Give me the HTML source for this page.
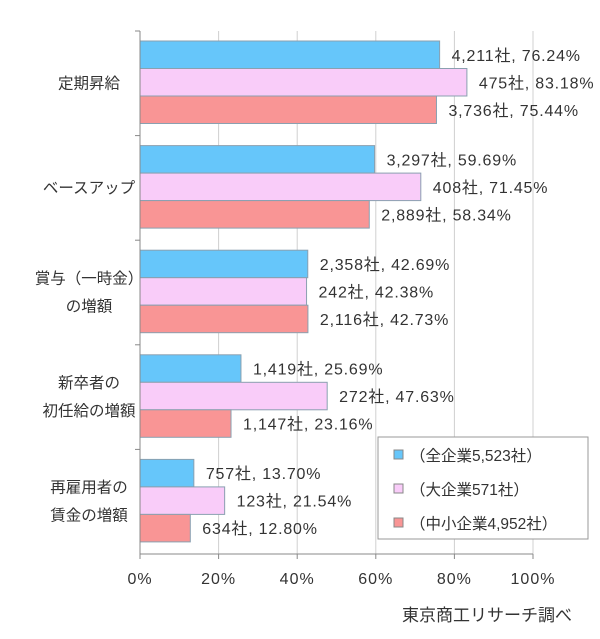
<!DOCTYPE html>
<html><head><meta charset="utf-8">
<style>
body{margin:0;background:#fff;}
svg{display:block;font-family:"Liberation Sans","Noto Sans CJK JP",sans-serif;}
</style></head>
<body>
<svg id="chart" width="600" height="639" viewBox="0 0 600 639">
<g id="grid"></g>
<g id="bars"></g>
<g id="axes"></g>
<g>
<rect x="378" y="437" width="210" height="102" fill="#fff" stroke="#999"/>
<rect x="394" y="450" width="9" height="9" fill="#66c6fa" stroke="#888"/>
<text x="410" y="461" font-size="15.5" fill="#333">（全企業5,523社）</text>
<rect x="394" y="484" width="9" height="9" fill="#f9ccf9" stroke="#888"/>
<text x="410" y="495" font-size="15.5" fill="#333">（大企業571社）</text>
<rect x="394" y="518" width="9" height="9" fill="#f99595" stroke="#888"/>
<text x="410" y="529" font-size="15.5" fill="#333">（中小企業4,952社）</text>
</g>
<text x="572" y="621" font-size="17" fill="#333" text-anchor="end">東京商工リサーチ調べ</text>
</svg>
<script>
const categories=[["定期昇給"],["ベースアップ"],["賞与（一時金）","の増額"],["新卒者の","初任給の増額"],["再雇用者の","賃金の増額"]];
const allPct=[76.24,59.69,42.69,25.69,13.70];
const largePct=[83.18,71.45,42.38,47.63,21.54];
const smePct=[75.44,58.34,42.73,23.16,12.80];
const allCount=["4,211","3,297","2,358","1,419","757"];
const largeCount=["475","408","242","272","123"];
const smeCount=["3,736","2,889","2,116","1,147","634"];
const ticks=[0,20,40,60,80,100];
const NS="http://www.w3.org/2000/svg";
const X0=140,X1=533,Y0=31,Y1=554;
const xs=v=>X0+(X1-X0)*v/100;
const band=(Y1-Y0)/categories.length;
function mk(tag,attrs,parent,txt){const e=document.createElementNS(NS,tag);for(const k in attrs)e.setAttribute(k,attrs[k]);if(txt!==undefined)e.textContent=txt;parent.appendChild(e);return e;}
const grid=document.getElementById('grid'),bars=document.getElementById('bars'),axes=document.getElementById('axes');
ticks.forEach(t=>{
  if(t>0){const l=mk('line',{x1:xs(t),x2:xs(t),y1:Y0,y2:Y1,stroke:'#d0d0d0'},grid);
  
  }
  const tk=mk('line',{x1:xs(t),x2:xs(t),y1:Y1,y2:Y1+5,stroke:'#888'},axes);
  
  
  const tx=mk('text',{x:xs(t),y:584,'font-size':16,'letter-spacing':1,fill:'#333','text-anchor':'middle'},axes,t+'%');
  
  
});
const series=[{v:allPct,c:allCount,f:'#66c6fa',n:'all'},{v:largePct,c:largeCount,f:'#f9ccf9',n:'large'},{v:smePct,c:smeCount,f:'#f99595',n:'sme'}];
const bh=27.5;
categories.forEach((cat,i)=>{
  const top=Y0+i*band+10;
  series.forEach((s,j)=>{
    const y=top+j*bh;
    const r=mk('rect',{x:X0,y:y,width:xs(s.v[i])-X0,height:bh,fill:s.f,stroke:'#8aa0b0','stroke-width':1},bars);
    
    
    const t=mk('text',{x:xs(s.v[i])+12,y:y+bh/2+6,'font-size':16,'letter-spacing':0.8,fill:'#333'},bars,s.c[i]+'社, '+s.v[i].toFixed(2)+'%');
    
    
  });
  const cy=Y0+i*band+band/2;
  cat.forEach((line,k)=>{
    const t=mk('text',{x:89,y:cy+5+(k-(cat.length-1)/2)*28,'font-size':15.5,fill:'#333','text-anchor':'middle'},axes,line);
    
    
  });
  const sep=mk('line',{x1:X0-5,x2:X0,y1:Y0+i*band,y2:Y0+i*band,stroke:'#888'},axes);
  
  
});
const ya=mk('line',{x1:X0,x2:X0,y1:Y0,y2:Y1,stroke:'#888'},axes);


const xa=mk('line',{x1:X0,x2:X1,y1:Y1,y2:Y1,stroke:'#888'},axes);


</script>
</body></html>
